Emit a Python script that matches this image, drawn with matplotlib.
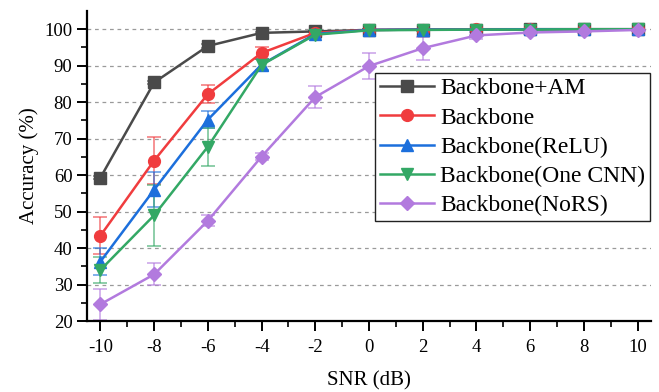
import matplotlib.pyplot as plt

plt.rcParams['font.family'] = ['Liberation Serif', 'DejaVu Serif']
plt.rcParams['mathtext.fontset'] = 'stix'

snr = [-10, -8, -6, -4, -2, 0, 2, 4, 6, 8, 10]

names = ['Backbone+AM', 'Backbone', 'Backbone(ReLU)', 'Backbone(One CNN)', 'Backbone(NoRS)']
colors = ['#4a4a4a', '#f03c3e', '#1c6fdc', '#33a865', '#b27ade']
markers = ['s', 'o', '^', 'v', 'D']
sizes = [8, 8.5, 9, 9, 7.5]

acc_am = [59.3, 85.4, 95.4, 99.0, 99.4, 99.8, 99.9, 99.9, 100.0, 100.0, 100.0]
acc_base = [43.4, 64.0, 82.2, 93.5, 99.0, 99.8, 99.9, 100.0, 100.0, 100.0, 100.0]
acc_relu = [36.3, 56.0, 75.2, 90.3, 98.7, 99.8, 99.9, 99.9, 100.0, 100.0, 100.0]
acc_one = [34.0, 49.0, 67.8, 90.2, 98.5, 99.7, 99.8, 99.9, 99.9, 100.0, 100.0]
acc_nors = [24.6, 32.8, 47.5, 65.1, 81.4, 89.9, 94.8, 98.3, 99.1, 99.4, 99.8]

err_am = [0.4, 0.5, 0.5, 0.3, 0.2, 0.1, 0.1, 0.1, 0.1, 0.1, 0.1]
err_base = [5.0, 6.4, 2.5, 1.7, 0.6, 0.2, 0.1, 0.1, 0.1, 0.1, 0.1]
err_relu = [3.8, 4.8, 2.3, 1.5, 0.8, 0.2, 0.2, 0.2, 0.1, 0.1, 0.1]
err_one = [3.5, 8.3, 5.2, 1.6, 0.8, 0.3, 0.2, 0.2, 0.2, 0.1, 0.1]
err_nors = [4.3, 3.0, 1.5, 1.0, 3.0, 3.5, 3.2, 1.0, 0.5, 0.4, 0.3]

accs = [acc_am, acc_base, acc_relu, acc_one, acc_nors]
errs = [err_am, err_base, err_relu, err_one, err_nors]

fig = plt.figure(figsize=(6.59, 3.92), dpi=100)
ax = fig.add_axes([0.132, 0.181, 0.856, 0.791])

for y in range(30, 101, 10):
    ax.axhline(y, color='#9a9a9a', linestyle=(0, (3, 3)), linewidth=0.9, zorder=0)

handles = []
for name, acc, err, c, m, s in zip(names, accs, errs, colors, markers, sizes):
    ax.errorbar(snr, acc, yerr=err, fmt='none', ecolor=c, alpha=0.6,
                elinewidth=1.3, capsize=5, capthick=1.3, zorder=2)
    line, = ax.plot(snr, acc, color=c, marker=m, markersize=s, linewidth=1.8,
                    label=name, zorder=3)
    handles.append(line)

ax.set_xlim(-10.5, 10.5)
ax.set_ylim(20, 105)
ax.set_xticks(snr)
ax.set_xticklabels([str(v) for v in snr])
ax.set_xticks(range(-9, 10, 2), minor=True)
ax.set_yticks(range(20, 101, 10))
ax.set_yticks(range(25, 101, 10), minor=True)

ax.spines['top'].set_visible(False)
ax.spines['right'].set_visible(False)
ax.spines['left'].set_linewidth(1.6)
ax.spines['bottom'].set_linewidth(1.6)
ax.tick_params(which='major', direction='out', length=7, width=1.4, labelsize=13.5)
ax.tick_params(axis='x', which='major', pad=6)
ax.tick_params(which='minor', direction='out', length=4, width=1.2)

ax.set_xlabel('SNR (dB)', fontsize=15, labelpad=11)
ax.set_ylabel('Accuracy (%)', fontsize=15, labelpad=4)

leg = ax.legend(handles=handles, loc='upper right', bbox_to_anchor=(0.998, 0.80),
                fontsize=17, frameon=True, fancybox=False, borderaxespad=0,
                handlelength=2.3, handletextpad=0.25, labelspacing=0.33,
                borderpad=0.2)
leg.get_frame().set_edgecolor('#222222')
leg.get_frame().set_linewidth(1.0)
leg.get_frame().set_alpha(1)

fig.savefig('out.png', dpi=100)
